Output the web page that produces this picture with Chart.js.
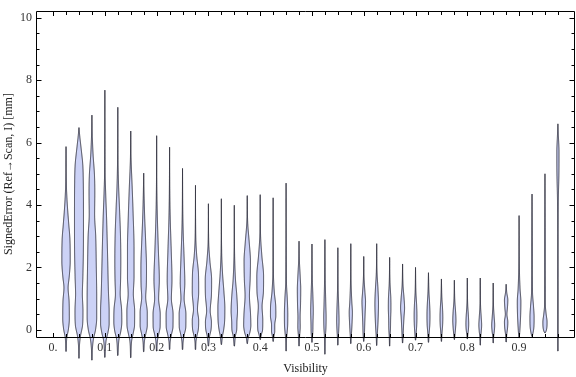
<!DOCTYPE html>
<html><head><meta charset="utf-8">
<script src="https://cdn.jsdelivr.net/npm/chart.js@4"></script>
<style>html,body{margin:0;padding:0;background:#fff}#wrap{width:576px;height:377px;position:relative}</style>
</head><body><div id="wrap"><canvas id="c"></canvas></div>
<script>
// Visibility bins (category centres)
const positions = [0.025,0.05,0.075,0.1,0.125,0.15,0.175,0.2,0.225,0.25,0.275,0.3,0.325,0.35,0.375,0.4,0.425,0.45,0.475,0.5,0.525,0.55,0.575,0.6,0.625,0.65,0.675,0.7,0.725,0.75,0.775,0.8,0.825,0.85,0.875,0.9,0.925,0.95,0.975];
// Smooth density profile of each bin: [signedError, relative density], top to bottom
const profiles = [
 [[5.87,0],[4.6,0.4],[4.0,1.3],[3.4,2.7],[2.9,3.9],[2.2,4.2],[1.7,3.2],[1.35,2.1],[0.9,3.1],[0.35,3.3],[0.0,2.3],[-0.25,0.8],[-0.69,0.2]],
 [[6.48,0],[6.2,0.8],[5.8,2.2],[5.3,3.8],[4.8,4.3],[3.5,4.5],[2.5,4.4],[1.7,3.9],[1.15,3.4],[0.6,4.0],[0.15,3.6],[-0.2,1.5],[-0.5,0.5],[-0.91,0.2]],
 [[6.88,0],[6.2,0.4],[5.6,1.2],[5.0,2.5],[4.4,2.9],[3.7,2.7],[3.0,3.8],[2.0,4.4],[1.0,4.8],[0.4,4.8],[0.0,3.6],[-0.3,1.5],[-0.6,0.5],[-0.97,0.2]],
 [[7.68,0],[5.0,0.3],[4.3,0.9],[3.6,1.7],[2.8,2.4],[2.0,3.0],[1.2,3.6],[0.6,4.3],[0.2,4.3],[-0.1,3.0],[-0.35,1.2],[-0.88,0.2]],
 [[7.13,0],[5.3,0.3],[4.6,0.8],[3.9,1.7],[3.0,2.7],[2.2,3.0],[1.6,2.8],[1.15,2.4],[0.65,3.8],[0.25,4.0],[-0.05,3.0],[-0.3,1.2],[-0.82,0.2]],
 [[6.37,0],[5.4,0.4],[4.6,1.4],[3.6,2.5],[2.6,3.3],[1.7,3.3],[1.15,2.6],[0.6,3.9],[0.15,3.8],[-0.15,2.2],[-0.35,0.9],[-0.89,0.2]],
 [[5.02,0],[4.3,0.4],[3.6,1.0],[2.8,2.0],[2.0,2.8],[1.4,2.6],[1.05,2.0],[0.55,3.6],[0.15,3.6],[-0.15,2.0],[-0.35,0.8],[-0.7,0.2]],
 [[6.22,0],[4.3,0.3],[3.4,0.9],[2.5,1.8],[1.6,2.7],[1.0,2.0],[0.5,3.6],[0.1,3.5],[-0.15,2.0],[-0.35,0.8],[-0.68,0.2]],
 [[5.85,0],[4.2,0.3],[3.4,0.8],[2.5,1.7],[1.6,2.4],[1.0,1.8],[0.5,3.5],[0.1,3.4],[-0.15,1.9],[-0.35,0.7],[-0.63,0.2]],
 [[5.17,0],[3.7,0.3],[3.0,0.8],[2.2,1.7],[1.5,2.3],[1.0,1.6],[0.5,3.4],[0.1,3.3],[-0.15,1.8],[-0.35,0.7],[-0.63,0.2]],
 [[4.63,0],[3.0,0.3],[2.4,1.2],[1.8,3.0],[1.2,3.2],[0.65,2.0],[0.3,3.2],[0.0,2.8],[-0.2,1.4],[-0.35,0.6],[-0.63,0.2]],
 [[4.04,0],[2.8,0.3],[2.2,1.5],[1.6,3.2],[1.1,3.0],[0.6,1.8],[0.25,3.0],[0.0,2.6],[-0.2,1.2],[-0.52,0.2]],
 [[4.2,0],[2.5,0.3],[1.8,1.2],[1.2,2.6],[0.7,3.5],[0.3,3.3],[0.0,2.3],[-0.2,1.1],[-0.47,0.2]],
 [[3.99,0],[2.4,0.3],[1.6,1.2],[1.1,2.5],[0.6,3.2],[0.25,2.6],[0.0,2.4],[-0.2,1.1],[-0.52,0.2]],
 [[4.3,0],[3.4,0.5],[2.8,2.0],[2.2,3.2],[1.6,2.9],[1.1,2.2],[0.5,3.3],[0.15,3.6],[-0.1,2.5],[-0.25,1.0],[-0.44,0.2]],
 [[4.33,0],[3.0,0.4],[2.4,1.6],[1.7,3.4],[1.2,3.2],[0.75,1.9],[0.3,2.6],[0.0,2.4],[-0.15,1.2],[-0.31,0.2]],
 [[4.23,0],[1.8,0.3],[1.2,1.2],[0.75,2.6],[0.45,2.7],[0.15,1.6],[-0.05,1.6],[-0.2,0.8],[-0.37,0.2]],
 [[4.7,0],[1.5,0.4],[1.0,1.2],[0.5,1.7],[0.15,1.6],[-0.1,1.0],[-0.3,0.4],[-0.68,0.15]],
 [[2.84,0],[2.2,0.4],[1.7,1.2],[1.3,1.7],[0.8,1.5],[0.4,1.1],[0.1,1.2],[-0.2,0.6],[-0.52,0.15]],
 [[2.75,0],[1.6,0.4],[1.0,1.0],[0.6,1.3],[0.2,1.0],[-0.1,0.8],[-0.25,0.4],[-0.4,0.15]],
 [[2.89,0],[1.5,0.4],[0.8,0.9],[0.4,1.2],[0.05,1.0],[-0.2,0.5],[-0.78,0.15]],
 [[2.63,0],[1.2,0.4],[0.6,1.0],[0.3,1.2],[0.0,0.9],[-0.2,0.5],[-0.49,0.15]],
 [[2.76,0],[1.4,0.4],[0.9,1.0],[0.55,1.6],[0.25,1.3],[0.0,0.9],[-0.2,0.5],[-0.44,0.15]],
 [[2.35,0],[1.6,0.4],[1.2,1.2],[0.9,1.8],[0.55,1.4],[0.2,1.0],[-0.1,0.7],[-0.37,0.15]],
 [[2.76,0],[1.8,0.4],[1.3,1.3],[0.85,1.8],[0.4,1.5],[0.05,1.0],[-0.2,0.5],[-0.5,0.15]],
 [[2.32,0],[1.5,0.4],[1.0,1.2],[0.7,1.3],[0.35,1.0],[0.0,0.8],[-0.2,0.4],[-0.52,0.15]],
 [[2.11,0],[1.4,0.5],[1.0,1.5],[0.7,2.0],[0.4,1.4],[0.1,0.9],[-0.2,0.5],[-0.42,0.15]],
 [[2.0,0],[1.2,0.4],[0.8,1.1],[0.45,1.4],[0.15,1.2],[-0.1,0.7],[-0.33,0.15]],
 [[1.83,0],[1.2,0.5],[0.8,1.2],[0.45,1.5],[0.15,1.3],[-0.1,0.7],[-0.4,0.15]],
 [[1.63,0],[1.0,0.5],[0.7,1.1],[0.4,1.4],[0.15,1.2],[-0.1,0.6],[-0.37,0.15]],
 [[1.59,0],[0.9,0.5],[0.55,1.3],[0.3,1.6],[0.05,1.2],[-0.15,0.6],[-0.31,0.15]],
 [[1.66,0],[0.8,0.4],[0.45,1.1],[0.2,1.4],[0.0,1.1],[-0.15,0.5],[-0.29,0.15]],
 [[1.66,0],[0.7,0.4],[0.4,1.0],[0.15,1.4],[-0.05,1.0],[-0.2,0.5],[-0.49,0.15]],
 [[1.5,0],[0.7,0.4],[0.4,1.0],[0.15,1.5],[-0.05,1.1],[-0.2,0.5],[-0.42,0.15]],
 [[1.46,0],[1.2,0.6],[0.95,1.7],[0.7,1.3],[0.5,0.8],[0.25,1.7],[0.05,1.4],[-0.15,0.6],[-0.39,0.15]],
 [[3.66,0],[2.0,0.3],[1.3,1.0],[0.9,1.8],[0.5,1.6],[0.15,1.1],[-0.1,0.6],[-0.26,0.15]],
 [[4.35,0],[2.5,0.3],[1.2,0.5],[0.75,1.5],[0.4,2.1],[0.1,1.9],[-0.1,1.0],[-0.21,0.15]],
 [[5.0,0],[2.5,0.3],[0.8,0.4],[0.5,1.2],[0.25,2.1],[0.05,1.8],[-0.05,1.0],[-0.1,0.15]],
 [[6.6,0],[6.2,0.5],[5.7,1.1],[5.0,1.0],[4.3,0.5],[3.0,0.2],[-0.68,0.15]]
];
const xTickValues = [0,0.1,0.2,0.3,0.4,0.5,0.6,0.7,0.8,0.9];
const xTickLabels = ["0.","0.1","0.2","0.3","0.4","0.5","0.6","0.7","0.8","0.9"];
const yTickValues = [0,2,4,6,8,10];
const yTickLabels = ["0","2","4","6","8","10"];
const xMinorTicks = [0].concat(positions);
const yMinorTicks = [0,0.5,1,1.5,2,2.5,3,3.5,4,4.5,5,5.5,6,6.5,7,7.5,8,8.5,9,9.5,10];

const DENSITY_SCALE = 1/518;   // relative density -> visibility half-width
const FILL = 'rgb(204,210,246)';
const STROKE = 'rgba(30,30,45,0.85)';
const SERIF = '"Liberation Serif","DejaVu Serif",serif';

function monotone(xs, ys){
  const n = xs.length, d = [], m = new Array(n);
  for (let i=0;i<n-1;i++) d.push((ys[i+1]-ys[i])/(xs[i+1]-xs[i]));
  m[0]=d[0]; m[n-1]=d[n-2];
  for (let i=1;i<n-1;i++){ m[i] = (d[i-1]*d[i] <= 0) ? 0 : (d[i-1]+d[i])/2; }
  for (let i=0;i<n-1;i++){
    if (d[i]===0){ m[i]=0; m[i+1]=0; continue; }
    const a=m[i]/d[i], b=m[i+1]/d[i], s=a*a+b*b;
    if (s>9){ const t=3/Math.sqrt(s); m[i]=t*a*d[i]; m[i+1]=t*b*d[i]; }
  }
  return function(x){
    let i=0; while(i<n-2 && x>xs[i+1]) i++;
    const h=xs[i+1]-xs[i], t=(x-xs[i])/h, t2=t*t, t3=t2*t;
    return (2*t3-3*t2+1)*ys[i]+(t3-2*t2+t)*h*m[i]+(-2*t3+3*t2)*ys[i+1]+(t3-t2)*h*m[i+1];
  };
}

const violinPlugin = {
  id:'violins',
  afterDatasetsDraw(chart){
    const {ctx, scales:{x, y}} = chart;
    ctx.save();
    chart.data.datasets.forEach(ds => {
      const prof = ds.profile.slice().reverse(); // ascending in y
      const ys = prof.map(p=>p[0]), ws = prof.map(p=>Math.max(0,p[1]));
      const f = monotone(ys, ws);
      const yTop = ys[ys.length-1], yBot = ys[0];
      const pTop = y.getPixelForValue(yTop), pBot = y.getPixelForValue(yBot);
      const right = [], left = [];
      const steps = Math.max(8, Math.ceil((pBot-pTop)/0.5));
      for (let k=0;k<=steps;k++){
        const v = yTop - (yTop-yBot)*k/steps;
        const w = Math.max(0, f(v))*DENSITY_SCALE;
        const py = y.getPixelForValue(v);
        right.push([x.getPixelForValue(ds.pos + w), py]);
        left.push([x.getPixelForValue(ds.pos - w), py]);
      }
      ctx.beginPath();
      ctx.moveTo(right[0][0], right[0][1]);
      for (const p of right) ctx.lineTo(p[0], p[1]);
      for (let k=left.length-1;k>=0;k--) ctx.lineTo(left[k][0], left[k][1]);
      ctx.closePath();
      ctx.fillStyle = FILL; ctx.fill();
      ctx.lineWidth = 1; ctx.strokeStyle = STROKE; ctx.lineJoin='round'; ctx.stroke();
    });
    ctx.restore();
  },
  afterDraw(chart){
    const {ctx, chartArea:a, scales:{x, y}} = chart;
    ctx.save();
    ctx.strokeStyle = '#000'; ctx.lineWidth = 1;
    ctx.beginPath();
    ctx.rect(Math.round(a.left)+0.5, Math.round(a.top)+0.5, Math.round(a.right-a.left)-1, Math.round(a.bottom-a.top));
    ctx.stroke();
    ctx.beginPath();
    xMinorTicks.forEach(v => {
      const major = xTickValues.some(t=>Math.abs(t-v)<1e-9);
      const len = major ? 4.5 : 3.5;
      const px = Math.round(x.getPixelForValue(v))+0.5;
      ctx.moveTo(px, Math.round(a.bottom)+0.5); ctx.lineTo(px, Math.round(a.bottom)+0.5-len);
      ctx.moveTo(px, Math.round(a.top)+0.5); ctx.lineTo(px, Math.round(a.top)+0.5+len);
    });
    yMinorTicks.forEach(v => {
      const major = yTickValues.some(t=>Math.abs(t-v)<1e-9);
      const len = major ? 5 : 3;
      const py = Math.round(y.getPixelForValue(v))+0.5;
      ctx.moveTo(Math.round(a.left)+0.5, py); ctx.lineTo(Math.round(a.left)+0.5+len, py);
      ctx.moveTo(Math.round(a.right)-0.5, py); ctx.lineTo(Math.round(a.right)-0.5-len, py);
    });
    ctx.stroke();
    ctx.restore();
  }
};

const datasets = positions.map((p,i)=>({
  label: 'Visibility ' + p,
  pos: p,
  profile: profiles[i],
  data: [{x:p, y:profiles[i][0][0]}, {x:p, y:profiles[i][profiles[i].length-1][0]}],
  pointRadius: 0, showLine: false, clip: false
}));

new Chart(document.getElementById('c'), {
  type: 'scatter',
  data: { datasets },
  plugins: [violinPlugin],
  options: {
    responsive: true, maintainAspectRatio: false, animation: false,
    devicePixelRatio: 1,
    layout: { padding: { top: 4, right: 1, left: 0, bottom: 0 } },
    plugins: { legend: { display: false }, tooltip: { enabled: false } },
    scales: {
      x: {
        type: 'linear', min: -0.033, max: 1.008,
        afterBuildTicks: s => { s.ticks = xTickValues.map(v=>({value:v})); },
        afterFit: s => { s.height = 40; },
        grid: { display: false, drawTicks: false }, border: { display: false },
        ticks: { autoSkip: false, maxRotation: 0, padding: 4, color: '#333',
          font: { family: SERIF, size: 12 },
          callback: v => xTickLabels[xTickValues.findIndex(t=>Math.abs(t-v)<1e-9)] },
        title: { display: true, text: 'Visibility', color: '#222', font: { family: SERIF, size: 12 }, padding: { top: 0, bottom: 1 } }
      },
      y: {
        type: 'linear', min: -0.23, max: 10.21,
        afterBuildTicks: s => { s.ticks = yTickValues.map(v=>({value:v})); },
        afterFit: s => { s.width = 36; },
        grid: { display: false, drawTicks: false }, border: { display: false },
        ticks: { autoSkip: false, padding: 4, color: '#333',
          font: { family: SERIF, size: 12 },
          callback: v => yTickLabels[yTickValues.findIndex(t=>Math.abs(t-v)<1e-9)] },
        title: { display: true, text: 'SignedError (Ref→Scan, I) [mm]', color: '#222', font: { family: SERIF, size: 12 }, padding: { top: 2, bottom: 0 } }
      }
    }
  }
});
</script>
</body></html>
